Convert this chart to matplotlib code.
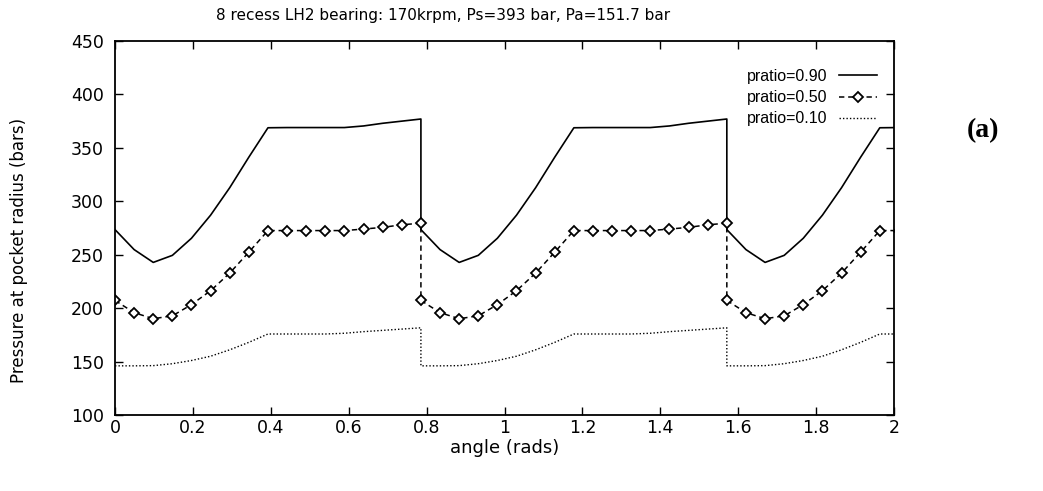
import matplotlib
matplotlib.use("Agg")
import matplotlib.pyplot as plt

# angle (rads): three recess periods (pi/4 each), sampled every pi/64; the
# step at each recess boundary appears as two points at the same angle
angle = [0.0000, 0.0491, 0.0982, 0.1473, 0.1963, 0.2454, 0.2945, 0.3436, 0.3927,
         0.4418, 0.4909, 0.5400, 0.5890, 0.6381, 0.6872, 0.7363, 0.7854,
         0.7854, 0.8345, 0.8836, 0.9327, 0.9817, 1.0308, 1.0799, 1.1290, 1.1781,
         1.2272, 1.2763, 1.3254, 1.3744, 1.4235, 1.4726, 1.5217, 1.5708,
         1.5708, 1.6199, 1.6690, 1.7181, 1.7671, 1.8162, 1.8653, 1.9144, 1.9635,
         2.0126]

p090 = [273.5, 254.8, 242.8, 249.4, 265.4, 287.0, 312.7, 341.3, 368.8,
        369.0, 369.0, 369.0, 369.0, 370.5, 373.0, 375.0, 377.0,
        273.5, 254.8, 242.8, 249.4, 265.4, 287.0, 312.7, 341.3, 368.8,
        369.0, 369.0, 369.0, 369.0, 370.5, 373.0, 375.0, 377.0,
        273.5, 254.8, 242.8, 249.4, 265.4, 287.0, 312.7, 341.3, 368.8,
        369.0]

p050 = [207.2, 195.8, 190.1, 192.8, 203.3, 216.3, 232.8, 252.4, 272.6,
        272.6, 272.6, 272.6, 272.6, 274.0, 275.6, 278.0, 279.5,
        207.2, 195.8, 190.1, 192.8, 203.3, 216.3, 232.8, 252.4, 272.6,
        272.6, 272.6, 272.6, 272.6, 274.0, 275.6, 278.0, 279.5,
        207.2, 195.8, 190.1, 192.8, 203.3, 216.3, 232.8, 252.4, 272.6,
        272.6]

p010 = [146.0, 146.0, 146.2, 148.0, 151.0, 155.0, 161.0, 168.0, 175.8,
        175.8, 175.8, 175.8, 176.5, 178.0, 179.2, 180.4, 181.6,
        146.0, 146.0, 146.2, 148.0, 151.0, 155.0, 161.0, 168.0, 175.8,
        175.8, 175.8, 175.8, 176.5, 178.0, 179.2, 180.4, 181.6,
        146.0, 146.0, 146.2, 148.0, 151.0, 155.0, 161.0, 168.0, 175.8,
        175.8]

labels = ["pratio=0.90", "pratio=0.50", "pratio=0.10"]
xticks = [0, 0.2, 0.4, 0.6, 0.8, 1, 1.2, 1.4, 1.6, 1.8, 2]
xticklabels = ["0", "0.2", "0.4", "0.6", "0.8", "1", "1.2", "1.4", "1.6", "1.8", "2"]
yticks = [100, 150, 200, 250, 300, 350, 400, 450]

plt.rcParams['font.family'] = ['DejaVu Sans']

fig = plt.figure(figsize=(10.43, 4.91), dpi=100)
ax = fig.add_axes([115 / 1043, 76 / 491, 779 / 1043, 374 / 491])

ax.plot(angle, p090, color='black', lw=1.2, label=labels[0])
ax.plot(angle, p050, color='black', lw=1.1, ls=(0, (3.5, 2.5)), marker='D',
        markersize=4.8, markerfacecolor='white', markeredgecolor='black',
        markeredgewidth=1.3, label=labels[1])
ax.plot(angle, p010, color='black', lw=1.0, ls=(0, (1, 1.5)), label=labels[2])

ax.set_xlim(0, 2)
ax.set_ylim(100, 450)
ax.set_xticks(xticks)
ax.set_xticklabels(xticklabels)
ax.set_yticks(yticks)
ax.tick_params(direction='in', length=6, width=1.0, top=True, right=True,
               labelsize=12.5)
ax.tick_params(axis='x', pad=3)
ax.tick_params(axis='y', pad=8)
for s in ax.spines.values():
    s.set_linewidth(1.3)

ax.set_title("8 recess LH2 bearing: 170krpm, Ps=393 bar, Pa=151.7 bar",
             fontsize=11, pad=15, x=(443 - 115) / 779)
ax.set_xlabel("angle (rads)", fontsize=13, labelpad=1)
ax.set_ylabel("Pressure at pocket radius (bars)", fontsize=12,
              va='center', ha='center')
ax.yaxis.set_label_coords((19 - 115) / 779, (415 - 250) / 374)

leg = ax.legend(loc='upper right', bbox_to_anchor=(0.978, 0.925),
                frameon=False, markerfirst=False,
                prop={'family': ['Liberation Sans', 'DejaVu Sans'], 'size': 11.5},
                handlelength=2.4, handletextpad=0.7, borderpad=0,
                borderaxespad=0, labelspacing=0.38)

fig.text(983 / 1043, 1 - 131 / 491, "(a)", fontsize=20, fontweight='bold',
         family=['Liberation Serif', 'DejaVu Serif'], ha='center', va='center')

fig.savefig("out.png", dpi=100)
